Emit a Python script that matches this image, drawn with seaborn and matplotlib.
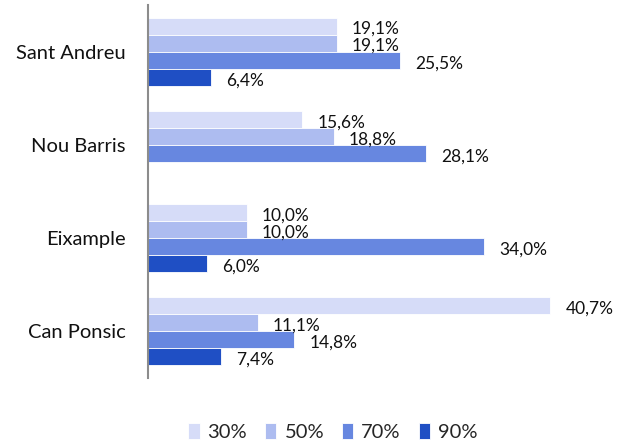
import numpy as np
import matplotlib
matplotlib.use("Agg")
import matplotlib.pyplot as plt
import pandas as pd
import seaborn as sns

barrios = ['Sant Andreu', 'Nou Barris', 'Eixample', 'Can Ponsic']
series = ['30%', '50%', '70%', '90%']
v30 = [19.1, 15.6, 10.0, 40.7]
v50 = [19.1, 18.8, 10.0, 11.1]
v70 = [25.5, 28.1, 34.0, 14.8]
v90 = [6.4, np.nan, 6.0, 7.4]
colors = ['#D6DCF8', '#ADBCF0', '#6787E0', '#1F4FC4']

sns.set_style('white')
plt.rcParams['font.family'] = ['Lato', 'DejaVu Sans']

rows = []
for s, vals in zip(series, [v30, v50, v70, v90]):
    for b, v in zip(barrios, vals):
        rows.append({'barrio': b, 'serie': s, 'valor': v})
df = pd.DataFrame(rows)

fig = plt.figure(figsize=(6.24, 4.46), dpi=100)
ax = fig.add_axes([148/624, 1 - 378/446, 445/624, 373/446])
sns.barplot(data=df, y='barrio', x='valor', hue='serie', order=barrios,
            hue_order=series, palette=colors, orient='h', width=0.73,
            edgecolor='white', linewidth=0.6, saturation=1, ax=ax, legend=True)

ax.set_xlim(0, 45)
ax.set_ylim(3.5, -0.5)
ax.set_xlabel('')
ax.set_ylabel('')
ax.set_xticks([])
for sp in ['top', 'right', 'bottom']:
    ax.spines[sp].set_visible(False)
ax.spines['left'].set_color('#8c8c8c')
ax.spines['left'].set_linewidth(1.5)
ax.tick_params(axis='y', length=0, pad=16, labelsize=14.5, labelcolor='#111111')

for cont in ax.containers:
    for p in cont.patches:
        w = p.get_width()
        if np.isnan(w) or w == 0:
            continue
        ax.annotate(f'{w:.1f}%'.replace('.', ','),
                    (w, p.get_y() + p.get_height() / 2),
                    xytext=(15, -3), textcoords='offset pixels',
                    ha='left', va='center', fontsize=12.5, color='#111111')

ax.legend(loc='center', bbox_to_anchor=(333/624, 1 - 432/446),
          bbox_transform=fig.transFigure, ncol=4, frameon=False,
          fontsize=14.5, handlelength=0.55, handleheight=0.8,
          handletextpad=0.4, columnspacing=0.9)

fig.savefig('out.png', dpi=100)
